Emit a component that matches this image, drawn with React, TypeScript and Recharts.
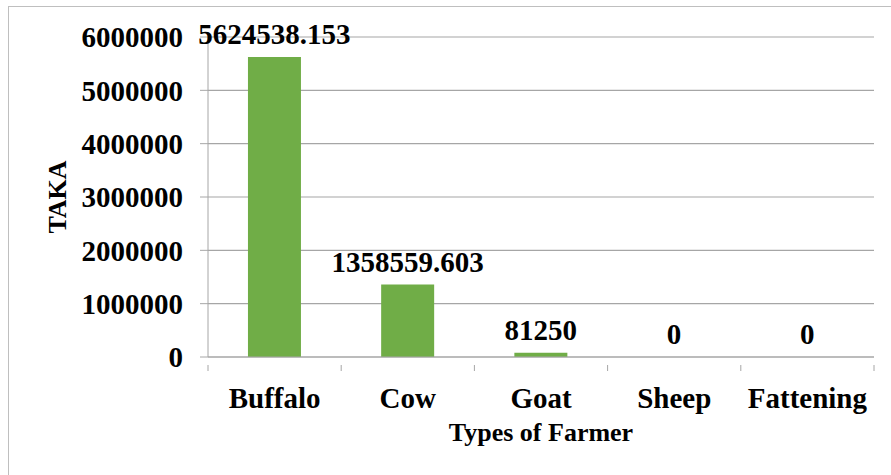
import { BarChart, Bar, XAxis, YAxis, CartesianGrid, LabelList } from 'recharts'

const CATEGORIES = ['Buffalo', 'Cow', 'Goat', 'Sheep', 'Fattening']
const TAKA = [5624538.153, 1358559.603, 81250, 0, 0]
const Y_TICKS = [0, 1000000, 2000000, 3000000, 4000000, 5000000, 6000000]

const data = CATEGORIES.map((c, i) => ({ name: c, value: TAKA[i]! }))

const FONT = '"Liberation Serif", "Times New Roman", serif'
const AXIS = '#a6a6a6'
const W = 891
const H = 475
const M = { top: 37, right: 17, left: 8, bottom: 0 }
const Y_W = 200
const BAND = (W - M.left - M.right - Y_W) / CATEGORIES.length

function XTick(props: any) {
  const { x, y, payload, index } = props
  return (
    <g>
      <line x1={x - BAND / 2} x2={x - BAND / 2} y1={y} y2={y + 6} stroke={AXIS} />
      {index === CATEGORIES.length - 1 && <line x1={x + BAND / 2} x2={x + BAND / 2} y1={y} y2={y + 6} stroke={AXIS} />}
      <text x={x} y={y + 43} textAnchor="middle" fontFamily={FONT} fontWeight="bold" fontSize={29} fill="#000">{payload.value}</text>
    </g>
  )
}

// value label above each bar, also drawn for the zero bars
function ValueLabel(props: any) {
  const { x, y, width, value } = props
  return (
    <text x={x + width / 2} y={y - 13} textAnchor="middle" fontFamily={FONT} fontWeight="bold" fontSize={29} fill="#000">{value}</text>
  )
}

export default function App() {
  return (
    <div style={{ position: 'absolute', left: 0, top: 0, width: W, height: H, background: '#fff' }}>
      <div style={{ position: 'absolute', left: 8, top: 6, width: W, height: H, border: '1px solid #bfbfbf', boxSizing: 'border-box' }} />
      <div style={{ position: 'absolute', left: 0, top: 0 }}>
        <BarChart width={W} height={H} data={data} margin={M} barCategoryGap="30%">
          <CartesianGrid vertical={false} stroke={AXIS} strokeWidth={1.2} />
          <XAxis dataKey="name" height={H - 357} stroke={AXIS} tickLine={false} tick={<XTick />} interval={0}
            label={{ value: 'Types of Farmer', position: 'insideBottom', offset: 34, fontFamily: FONT, fontWeight: 'bold', fontSize: 26, fill: '#000' }} />
          <YAxis width={Y_W} domain={[0, 6000000]} ticks={Y_TICKS} interval={0} stroke={AXIS} tickSize={8} tickMargin={17}
            tick={{ fontFamily: FONT, fontWeight: 'bold', fontSize: 29, fill: '#000' }}
            label={{ content: () => (
              <text x={57} y={197} transform="rotate(-90, 57, 197)" textAnchor="middle" dominantBaseline="central"
                fontFamily={FONT} fontWeight="bold" fontSize={26} fill="#000">TAKA</text>
            ) }} />
          <Bar dataKey="value" fill="#70AD47" minPointSize={0.01} isAnimationActive={false}>
            <LabelList dataKey="value" content={<ValueLabel />} />
          </Bar>
        </BarChart>
      </div>
    </div>
  )
}
